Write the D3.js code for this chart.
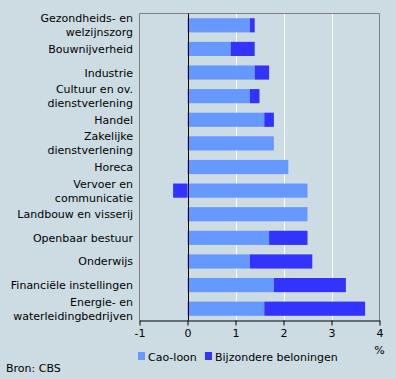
<!DOCTYPE html>
<html>
<head>
<meta charset="utf-8">
<script src="https://cdn.jsdelivr.net/npm/d3@7"></script>
<style>
  body { margin: 0; background: #cddce2; }
  svg text { font-family: "DejaVu Sans", Verdana, sans-serif; font-size: 11px; fill: #000; }
</style>
</head>
<body>
<script>
const sectors = [
    ["Gezondheids- en", "welzijnszorg"],
    ["Bouwnijverheid"],
    ["Industrie"],
    ["Cultuur en ov.", "dienstverlening"],
    ["Handel"],
    ["Zakelijke", "dienstverlening"],
    ["Horeca"],
    ["Vervoer en", "communicatie"],
    ["Landbouw en visserij"],
    ["Openbaar bestuur"],
    ["Onderwijs"],
    ["Financiële instellingen"],
    ["Energie- en", "waterleidingbedrijven"]
];
const caoLoon = [1.3, 0.9, 1.4, 1.3, 1.6, 1.8, 2.1, 2.5, 2.5, 1.7, 1.3, 1.8, 1.6];
const bijzondere = [0.1, 0.5, 0.3, 0.2, 0.2, 0, 0, -0.3, 0, 0.8, 1.3, 1.5, 2.1];
const xTicks = [-1, 0, 1, 2, 3, 4];
const seriesNames = ["Cao-loon", "Bijzondere beloningen"];
const colors = ["#6699ff", "#3333ff"];

const wSvg = 396, hSvg = 379;
const pLeft = 139.5, pRight = 379.5, pTop = 13.5, pBottom = 320.5;

let svg = d3.select("body").append("svg")
    .attr("width", wSvg)
    .attr("height", hSvg);

let xScale = d3.scaleLinear([-1, 4], [pLeft, pRight]);
let yScale = d3.scaleBand(d3.range(sectors.length), [pTop, pBottom])
    .paddingInner(0.4)
    .paddingOuter(0.2);

// grid lines
svg.append("g")
    .selectAll("line")
    .data(xTicks.filter(t => t > 0 && t < 4))
    .enter()
    .append("line")
    .attr("x1", d => Math.round(xScale(d)) + 0.5)
    .attr("x2", d => Math.round(xScale(d)) + 0.5)
    .attr("y1", pTop)
    .attr("y2", pBottom)
    .attr("stroke", "white");

// frame
svg.append("path")
    .attr("d", `M${pLeft},${pBottom}V${pTop}H${pRight}V${pBottom}`)
    .attr("fill", "none")
    .attr("stroke", "#808080");

// bars: cao-loon starts at 0, bijzondere stacks on it (or goes negative from 0)
let barData = [];
sectors.forEach((s, i) => {
    barData.push({ i: i, x0: 0, x1: caoLoon[i], c: colors[0] });
    if (bijzondere[i] > 0) barData.push({ i: i, x0: caoLoon[i], x1: caoLoon[i] + bijzondere[i], c: colors[1] });
    if (bijzondere[i] < 0) barData.push({ i: i, x0: bijzondere[i], x1: 0, c: colors[1] });
});

svg.append("g")
    .selectAll("rect")
    .data(barData)
    .enter()
    .append("rect")
    .attr("x", d => xScale(d.x0))
    .attr("width", d => xScale(d.x1) - xScale(d.x0))
    .attr("y", d => yScale(d.i))
    .attr("height", yScale.bandwidth())
    .attr("fill", d => d.c);

// zero line
svg.append("line")
    .attr("x1", Math.round(xScale(0)) + 0.5)
    .attr("x2", Math.round(xScale(0)) + 0.5)
    .attr("y1", pTop)
    .attr("y2", pBottom)
    .attr("stroke", "black");

// x axis
let xAxis = d3.axisBottom(xScale)
    .tickValues(xTicks)
    .tickFormat(d => String(d))
    .tickSize(5)
    .tickPadding(4)
    .tickSizeOuter(0);
let gx = svg.append("g")
    .attr("transform", `translate(0, ${pBottom})`)
    .call(xAxis);
gx.select(".domain").attr("stroke", "black");
gx.selectAll(".tick line").attr("stroke", "black");
gx.selectAll("text").attr("font-size", 11).attr("font-family", "DejaVu Sans, Verdana, sans-serif");

svg.append("text")
    .attr("x", xScale(4))
    .attr("y", 354)
    .attr("text-anchor", "middle")
    .text("%");

// category labels
let labels = svg.append("g")
    .selectAll("text")
    .data(sectors)
    .enter()
    .append("text")
    .attr("text-anchor", "end")
    .attr("x", 133)
    .attr("y", (d, i) => yScale(i) + yScale.bandwidth() / 2 - (d.length - 1) * 7 + 4);
labels.selectAll("tspan")
    .data(d => d)
    .enter()
    .append("tspan")
    .attr("x", 133)
    .attr("dy", (d, i) => i === 0 ? 0 : 14)
    .text(d => d);

// legend
let legendX = [138, 205];
seriesNames.forEach((name, i) => {
    svg.append("rect")
        .attr("x", legendX[i])
        .attr("y", 352)
        .attr("width", 7)
        .attr("height", 8)
        .attr("fill", colors[i]);
    svg.append("text")
        .attr("x", legendX[i] + 10)
        .attr("y", 361)
        .text(name);
});

svg.append("text")
    .attr("x", 6)
    .attr("y", 372)
    .text("Bron: CBS");
</script>
</body>
</html>
